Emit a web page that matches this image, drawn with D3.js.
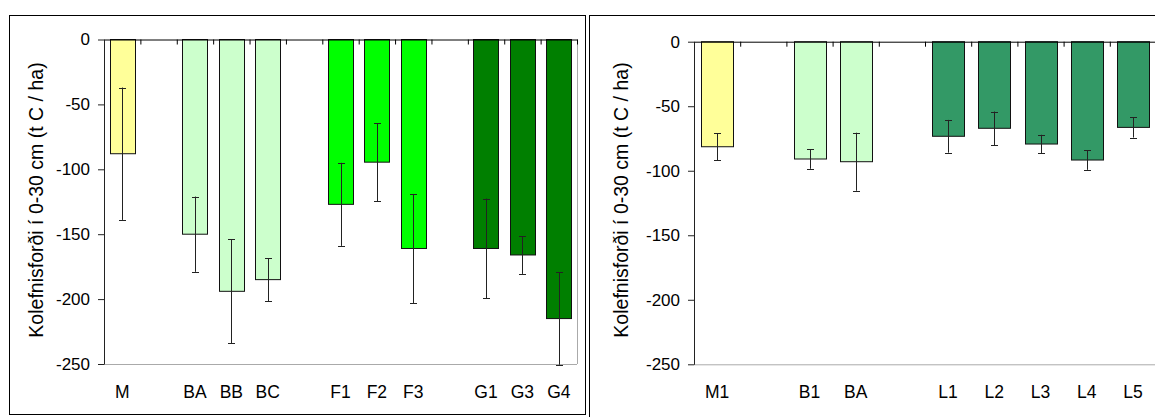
<!DOCTYPE html>
<html>
<head>
<meta charset="utf-8">
<script src="https://cdn.jsdelivr.net/npm/d3@7"></script>
<style>
  body { margin: 0; background: #fff; }
  text { font-family: "Liberation Sans", Arial, sans-serif; fill: #000; }
</style>
</head>
<body>
<script>
// data (blank names = empty slots between groups)
var leftLabels = ["M", "", "BA", "BB", "BC", "", "F1", "F2", "F3", "", "G1", "G3", "G4"];
var leftGroups = ["M", null, "B", "B", "B", null, "F", "F", "F", null, "G", "G", "G"];
var leftValues = [-88, null, -150, -194, -185, null, -127, -94.5, -161, null, -161, -166, -215];
var leftErrors = [51, null, 29, 40, 16.5, null, 32, 30, 42, null, 38.5, 14.6, 35.6];

var rightLabels = ["M1", "", "B1", "BA", "", "L1", "L2", "L3", "L4", "L5"];
var rightGroups = ["M", null, "B", "B", null, "L", "L", "L", "L", "L"];
var rightValues = [-81.4, null, -90.9, -93, null, -73.3, -67.1, -79.3, -91.7, -66.4];
var rightErrors = [10.3, null, 7.6, 22.5, null, 12.7, 13, 7.2, 7.6, 7.9];

var yTicks = [0, -50, -100, -150, -200, -250];
var yTitle = "Kolefnisforði í 0-30 cm (t C / ha)";

var colors = { M: "#ffff99", B: "#ccffcc", F: "#00ff00", G: "#007f00", L: "#339966" };

var svg = d3.select("body").append("svg")
    .attr("width", 1155)
    .attr("height", 417);

// outer frames
svg.append("rect")
    .attr("x", 9.5).attr("y", 15.5).attr("width", 576).attr("height", 399)
    .attr("fill", "none").attr("stroke", "#000");
svg.append("rect")
    .attr("x", 589.5).attr("y", 15.5).attr("width", 600).attr("height", 420)
    .attr("fill", "none").attr("stroke", "#000");

function drawPanel(p) {
  var n = p.labels.length;
  var g = svg.append("g");

  var x = d3.scaleBand()
      .domain(d3.range(n))
      .range([p.x0, p.x1])
      .paddingInner(0.31)
      .paddingOuter(0.155);
  var slot = d3.scaleLinear().domain([0, n]).range([p.x0, p.x1]);
  var y = d3.scaleLinear().domain([0, -250]).range([p.y0, p.y1]);

  // gray plot frame (bottom and right)
  g.append("line")
      .attr("x1", p.x0).attr("x2", p.x1)
      .attr("y1", y(-250) + 0.5).attr("y2", y(-250) + 0.5)
      .attr("stroke", "#aaa");
  g.append("line")
      .attr("x1", p.x1 + 0.5).attr("x2", p.x1 + 0.5)
      .attr("y1", y(0)).attr("y2", y(-250))
      .attr("stroke", "#aaa");

  // bars
  var idx = d3.range(n).filter(function(i) { return p.values[i] != null; });
  g.selectAll("rect.bar")
      .data(idx)
    .enter().append("rect")
      .attr("class", "bar")
      .attr("x", function(i) { return Math.round(x(i)) + 0.5; })
      .attr("y", y(0))
      .attr("width", Math.round(x.bandwidth()))
      .attr("height", function(i) { return y(p.values[i]) - y(0); })
      .attr("fill", function(i) { return colors[p.groups[i]]; })
      .attr("stroke", "#111");

  // error bars
  var cap = 3.5;
  idx.forEach(function(i) {
    var cx = Math.round(x(i) + x.bandwidth() / 2) + 0.5;
    var top = y(p.values[i] + p.errors[i]);
    var bot = y(p.values[i] - p.errors[i]);
    g.append("line").attr("x1", cx).attr("x2", cx).attr("y1", top).attr("y2", bot)
        .attr("stroke", "#222");
    [top, bot].forEach(function(yy) {
      g.append("line").attr("x1", cx - cap).attr("x2", cx + cap)
          .attr("y1", Math.round(yy) + 0.5).attr("y2", Math.round(yy) + 0.5)
          .attr("stroke", "#222");
    });
  });

  // zero line with slot ticks
  var xa = g.append("g")
      .attr("transform", "translate(0," + y(0) + ")")
      .call(d3.axisBottom(slot).tickValues(d3.range(n + 1)).tickSize(5).tickSizeOuter(0).tickFormat(""));
  xa.selectAll("path, line").attr("stroke", "#000");

  // y axis
  var ya = g.append("g")
      .attr("transform", "translate(" + p.x0 + ",0)")
      .call(d3.axisLeft(y).tickValues(yTicks).tickSize(6).tickPadding(8).tickSizeOuter(0)
        .tickFormat(function(d) { return String(d); }));
  ya.selectAll("path, line").attr("stroke", "#222");
  ya.selectAll("text").style("font-size", "17px").attr("fill", "#000");

  // category labels
  g.selectAll("text.cat")
      .data(idx)
    .enter().append("text")
      .attr("class", "cat")
      .attr("x", function(i) { return x(i) + x.bandwidth() / 2; })
      .attr("y", 398)
      .attr("text-anchor", "middle")
      .style("font-size", "17.5px")
      .text(function(i) { return p.labels[i]; });

  // y title
  g.append("text")
      .attr("transform", "translate(" + p.tx + ",200) rotate(-90)")
      .attr("text-anchor", "middle")
      .attr("dy", "0.35em")
      .style("font-size", "19.5px")
      .text(yTitle);
}

drawPanel({
  labels: leftLabels, groups: leftGroups, values: leftValues, errors: leftErrors,
  x0: 104, x1: 577, y0: 39.5, y1: 364, tx: 36
});
drawPanel({
  labels: rightLabels, groups: rightGroups, values: rightValues, errors: rightErrors,
  x0: 694, x1: 1156, y0: 41.7, y1: 364.3, tx: 621
});
</script>
</body>
</html>
